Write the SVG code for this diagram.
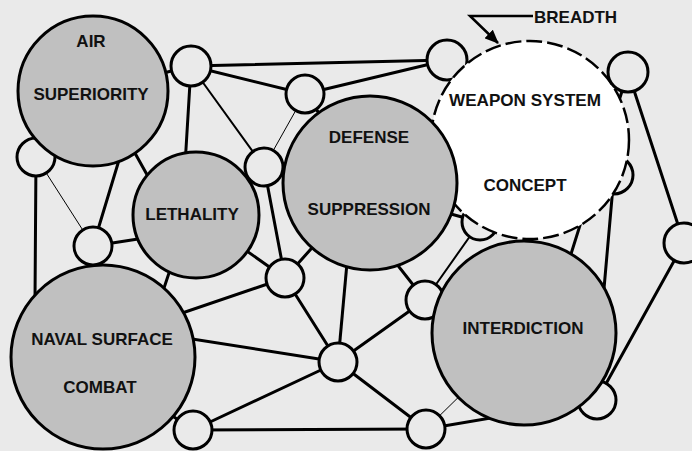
<svg xmlns="http://www.w3.org/2000/svg" width="692" height="451" viewBox="0 0 692 451">
  <style>
    .bg { fill: #eaeaea; }
    .link { stroke: #000; stroke-width: 3; fill: none; stroke-linecap: round; }
    .link.mid { stroke-width: 2; }
    .link.thin { stroke-width: 1; }
    .hub { fill: #eaeaea; stroke: #000; stroke-width: 3; }
    .area { fill: #c0c0c0; stroke: #000; stroke-width: 3; }
    .concept { fill: #ffffff; stroke: #000; stroke-width: 2.5; stroke-dasharray: 16 5; }
    .label { font-family: "Liberation Sans", Arial, Helvetica, sans-serif; font-weight: bold; font-size: 17px; fill: #111; text-anchor: middle; }
    .callout { stroke: #000; stroke-width: 2.5; fill: none; }
  </style>
  <defs>
    <marker id="arrow" viewBox="0 0 14 12" refX="13" refY="6" markerWidth="14" markerHeight="12" markerUnits="userSpaceOnUse" orient="auto">
      <path d="M0,0 L14,6 L0,12 Z" fill="#000"/>
    </marker>
  </defs>

  <rect class="bg" x="0" y="0" width="692" height="451"/>

  <!-- connectors -->
  <g id="connectors">
    <line class="link" x1="191" y1="66" x2="447" y2="60"/>
    <line class="link" x1="305" y1="94" x2="447" y2="60"/>
    <line class="link" x1="191" y1="66" x2="305" y2="94"/>
    <line class="link" x1="191" y1="66" x2="93" y2="91"/>
    <line class="link" x1="191" y1="66" x2="182" y2="215"/>
    <line class="link mid" x1="191" y1="66" x2="264" y2="167"/>
    <line class="link thin" x1="305" y1="94" x2="264" y2="167"/>
    <line class="link" x1="305" y1="94" x2="370" y2="183"/>
    <line class="link" x1="264" y1="167" x2="196" y2="215"/>
    <line class="link" x1="264" y1="167" x2="370" y2="183"/>
    <line class="link" x1="264" y1="167" x2="285" y2="278"/>
    <line class="link" x1="93" y1="91" x2="36" y2="157"/>
    <line class="link" x1="126" y1="137" x2="93" y2="246"/>
    <line class="link thin" x1="36" y1="157" x2="93" y2="246"/>
    <line class="link" x1="36" y1="157" x2="35" y2="300"/>
    <line class="link" x1="93" y1="246" x2="196" y2="230"/>
    <line class="link" x1="93" y1="246" x2="103" y2="357"/>
    <line class="link" x1="126" y1="137" x2="160" y2="198"/>
    <line class="link" x1="180" y1="240" x2="150" y2="330"/>
    <line class="link" x1="196" y1="215" x2="285" y2="278"/>
    <line class="link" x1="103" y1="340" x2="285" y2="278"/>
    <line class="link" x1="103" y1="325" x2="338" y2="362"/>
    <line class="link" x1="285" y1="278" x2="338" y2="362"/>
    <line class="link" x1="285" y1="278" x2="370" y2="183"/>
    <line class="link" x1="350" y1="230" x2="338" y2="362"/>
    <line class="link" x1="370" y1="230" x2="425" y2="300"/>
    <line class="link" x1="338" y1="362" x2="425" y2="300"/>
    <line class="link" x1="338" y1="362" x2="193" y2="430"/>
    <line class="link" x1="338" y1="362" x2="426" y2="429"/>
    <line class="link" x1="193" y1="430" x2="426" y2="429"/>
    <line class="link" x1="193" y1="430" x2="120" y2="380"/>
    <line class="link" x1="426" y1="429" x2="597" y2="400"/>
    <line class="link thin" x1="426" y1="429" x2="524" y2="333"/>
    <line class="link" x1="425" y1="300" x2="524" y2="333"/>
    <line class="link mid" x1="425" y1="300" x2="480" y2="222"/>
    <line class="link" x1="480" y1="222" x2="400" y2="200"/>
    <line class="link" x1="566" y1="270" x2="628" y2="72"/>
    <line class="link" x1="614" y1="175" x2="603" y2="300"/>
    <line class="link" x1="628" y1="72" x2="684" y2="243"/>
    <line class="link" x1="684" y1="243" x2="597" y2="400"/>
    <line class="link" x1="628" y1="72" x2="560" y2="110"/>
    <line class="link" x1="597" y1="400" x2="524" y2="333"/>
  </g>

  <!-- junction nodes partly behind the concept circle -->
  <g id="hub-12"><circle class="hub" cx="447" cy="60" r="20"/></g>
  <g id="hub-11"><circle class="hub" cx="480" cy="222" r="18"/></g>
  <g id="hub-14"><circle class="hub" cx="614" cy="175" r="19"/></g>

  <!-- concept under study -->
  <g id="weapon-system-concept">
    <circle class="concept" cx="530" cy="140" r="99"/>
    <text class="label" x="525" y="106" textLength="152" lengthAdjust="spacingAndGlyphs">WEAPON SYSTEM</text>
    <text class="label" x="525" y="191">CONCEPT</text>
  </g>

  <!-- junction nodes -->
  <g id="hub-1"><circle class="hub" cx="191" cy="66" r="20"/></g>
  <g id="hub-2"><circle class="hub" cx="305" cy="94" r="19"/></g>
  <g id="hub-3"><circle class="hub" cx="264" cy="167" r="19"/></g>
  <g id="hub-4"><circle class="hub" cx="36" cy="157" r="19"/></g>
  <g id="hub-5"><circle class="hub" cx="93" cy="246" r="19"/></g>
  <g id="hub-6"><circle class="hub" cx="285" cy="278" r="19"/></g>
  <g id="hub-7"><circle class="hub" cx="338" cy="362" r="19"/></g>
  <g id="hub-8"><circle class="hub" cx="193" cy="430" r="19"/></g>
  <g id="hub-9"><circle class="hub" cx="426" cy="429" r="19"/></g>
  <g id="hub-10"><circle class="hub" cx="425" cy="300" r="19"/></g>
  <g id="hub-13"><circle class="hub" cx="628" cy="72" r="20"/></g>
  <g id="hub-15"><circle class="hub" cx="684" cy="243" r="20"/></g>
  <g id="hub-16"><circle class="hub" cx="597" cy="400" r="19"/></g>

  <!-- mission areas -->
  <g id="air-superiority">
    <circle class="area" cx="93" cy="91" r="75"/>
    <text class="label" x="91" y="47">AIR</text>
    <text class="label" x="91" y="100">SUPERIORITY</text>
  </g>
  <g id="lethality">
    <circle class="area" cx="196" cy="215" r="63"/>
    <text class="label" x="192" y="220">LETHALITY</text>
  </g>
  <g id="defense-suppression">
    <circle class="area" cx="370" cy="183" r="87"/>
    <text class="label" x="369" y="143">DEFENSE</text>
    <text class="label" x="369" y="215">SUPPRESSION</text>
  </g>
  <g id="interdiction">
    <circle class="area" cx="524" cy="333" r="92"/>
    <text class="label" x="523" y="334">INTERDICTION</text>
  </g>
  <g id="naval-surface-combat">
    <circle class="area" cx="103" cy="357" r="92"/>
    <text class="label" x="102" y="345">NAVAL SURFACE</text>
    <text class="label" x="100" y="393">COMBAT</text>
  </g>

  <!-- breadth callout -->
  <g id="breadth">
    <polyline class="callout" points="533,16 470,16 498,43" marker-end="url(#arrow)"/>
    <text class="label" x="534" y="23" style="text-anchor:start">BREADTH</text>
  </g>
</svg>
